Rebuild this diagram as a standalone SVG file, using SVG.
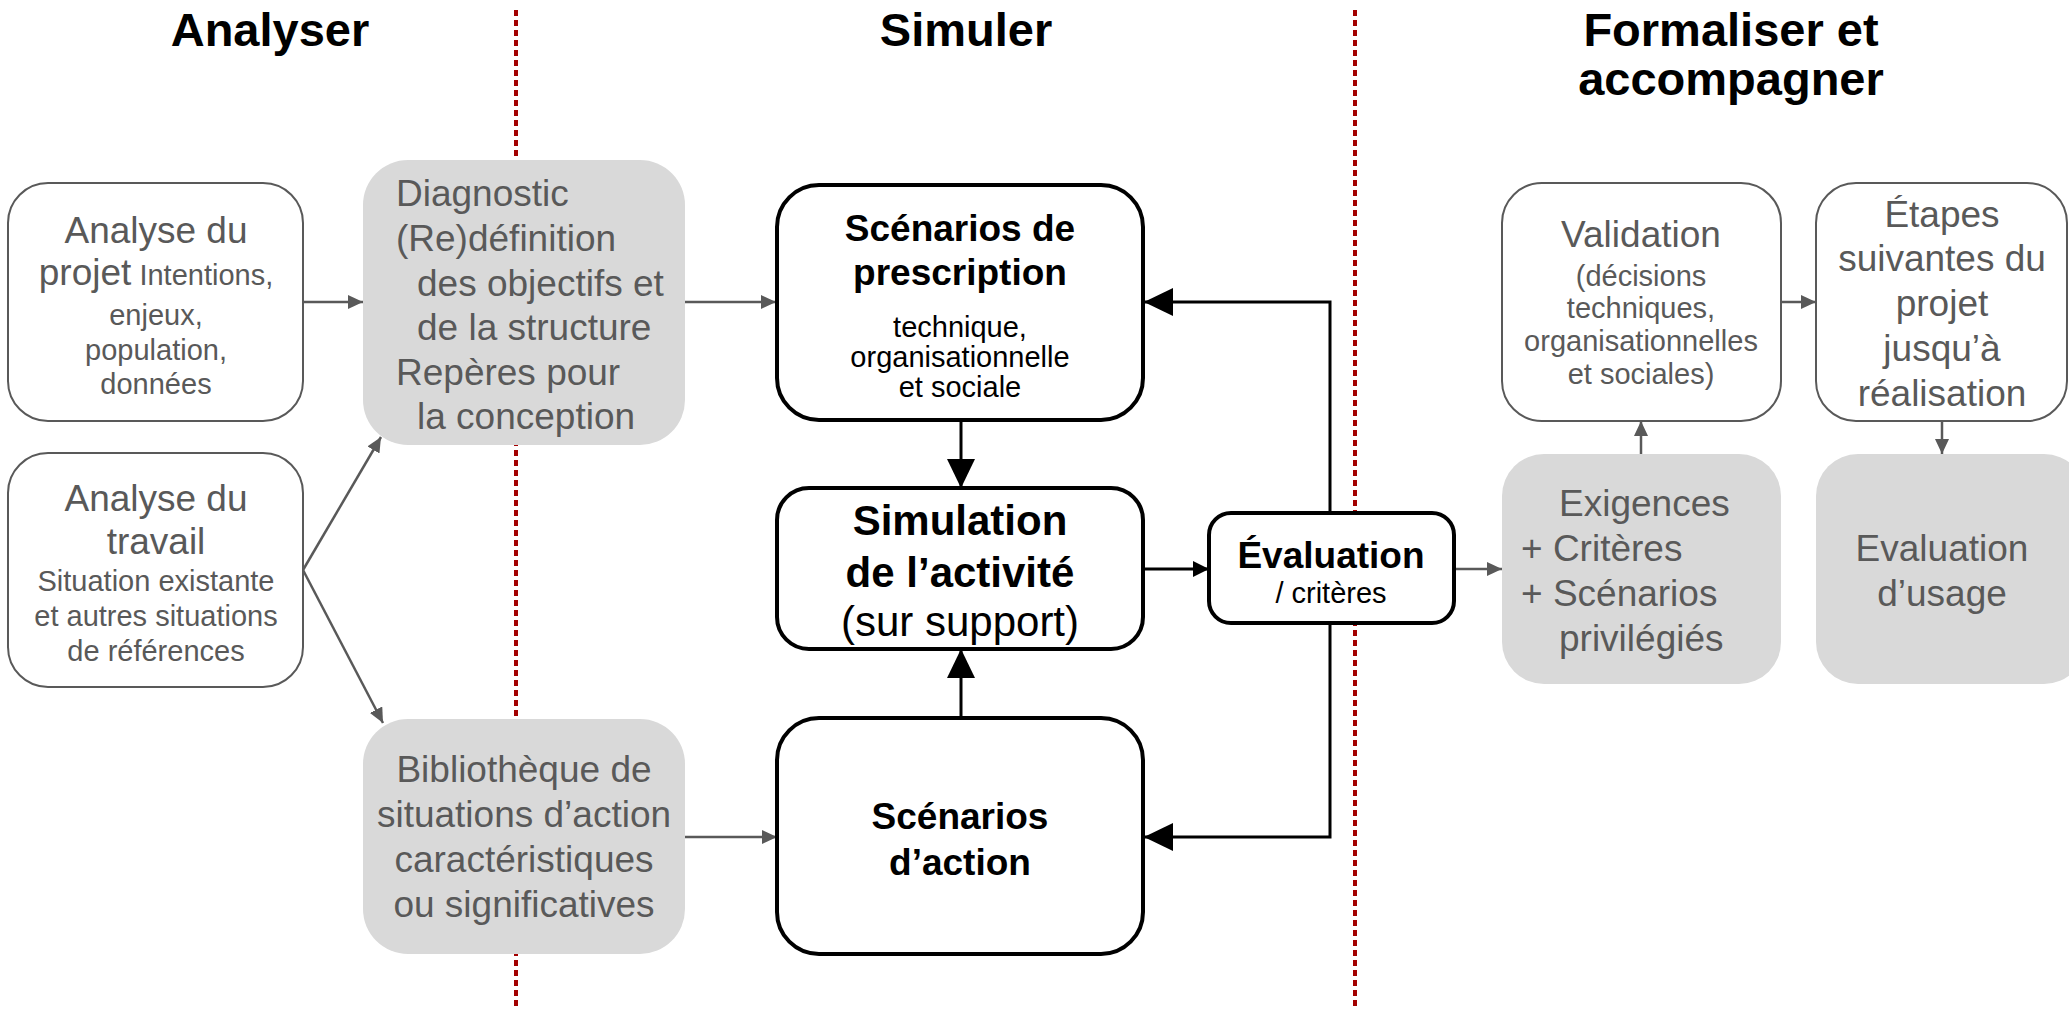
<svg xmlns="http://www.w3.org/2000/svg" width="2069" height="1009" viewBox="0 0 2069 1009">
<defs>
<style>
text{font-family:"Liberation Sans",Arial,sans-serif;}
.title{font-size:47px;font-weight:bold;fill:#000;text-anchor:middle;}
.g37{font-size:37px;fill:#595959;}
.g29{font-size:29px;fill:#595959;}
.b37{font-size:37px;font-weight:bold;fill:#000;}
.b42{font-size:42px;font-weight:bold;fill:#000;}
.k42{font-size:42px;fill:#000;}
.k29{font-size:29px;fill:#000;}
.mid{text-anchor:middle;}
.wbox{fill:#fff;stroke:#595959;stroke-width:2;}
.gbox{fill:#D9D9D9;stroke:none;}
.kbox{fill:#fff;stroke:#000;stroke-width:4;}
.sep{stroke:#A30000;stroke-width:4;stroke-dasharray:6 4;fill:none;}
.cg{stroke:#595959;stroke-width:2.5;fill:none;}
.ck{stroke:#000;stroke-width:3;fill:none;}
</style>
<marker id="ag" markerUnits="userSpaceOnUse" markerWidth="16" markerHeight="14" refX="15" refY="7" orient="auto">
<path d="M0,0 L15,7 L0,14 z" fill="#595959"/>
</marker>
<marker id="akb" markerUnits="userSpaceOnUse" markerWidth="30" markerHeight="28" refX="29" refY="14" orient="auto">
<path d="M0,0 L29,14 L0,28 z" fill="#000"/>
</marker>
<marker id="aks" markerUnits="userSpaceOnUse" markerWidth="17" markerHeight="16" refX="16" refY="8" orient="auto">
<path d="M0,0 L16,8 L0,16 z" fill="#000"/>
</marker>
</defs>
<rect x="0" y="0" width="2069" height="1009" fill="#fff"/>

<g id="separators">
<line class="sep" x1="516" y1="10" x2="516" y2="1009"/>
<line class="sep" x1="1355" y1="10" x2="1355" y2="1009"/>
</g>

<g id="titles">
<text class="title" x="270" y="46">Analyser</text>
<text class="title" x="966" y="46">Simuler</text>
<text class="title" x="1731" y="46">Formaliser et</text>
<text class="title" x="1731" y="95">accompagner</text>
</g>

<g id="connectors">
<line class="cg" x1="303" y1="302" x2="363" y2="302" marker-end="url(#ag)"/>
<line class="cg" x1="303" y1="570" x2="381" y2="437" marker-end="url(#ag)"/>
<line class="cg" x1="303" y1="570" x2="383" y2="723" marker-end="url(#ag)"/>
<line class="cg" x1="685" y1="302" x2="776" y2="302" marker-end="url(#ag)"/>
<line class="cg" x1="685" y1="837" x2="777" y2="837" marker-end="url(#ag)"/>
<line class="ck" x1="961" y1="420" x2="961" y2="488" marker-end="url(#akb)"/>
<line class="ck" x1="961" y1="718" x2="961" y2="649" marker-end="url(#akb)"/>
<line class="ck" x1="1143" y1="569" x2="1209" y2="569" marker-end="url(#aks)"/>
<path class="ck" d="M1330,513 V302 H1144" marker-end="url(#akb)"/>
<path class="ck" d="M1330,623 V837 H1144" marker-end="url(#akb)"/>
<line class="cg" x1="1454" y1="569" x2="1502" y2="569" marker-end="url(#ag)"/>
<line class="cg" x1="1641" y1="454" x2="1641" y2="421" marker-end="url(#ag)"/>
<line class="cg" x1="1781" y1="302" x2="1816" y2="302" marker-end="url(#ag)"/>
<line class="cg" x1="1942" y1="421" x2="1942" y2="454" marker-end="url(#ag)"/>
</g>

<g id="node-analyse-projet">
<rect class="wbox" x="8" y="183" width="295" height="238" rx="40"/>
<text class="g37 mid" x="156" y="243">Analyse du</text>
<text class="mid" x="156" y="285"><tspan class="g37">projet</tspan><tspan class="g29"> Intentions,</tspan></text>
<text class="g29 mid" x="156" y="325">enjeux,</text>
<text class="g29 mid" x="156" y="360">population,</text>
<text class="g29 mid" x="156" y="394">données</text>
</g>

<g id="node-analyse-travail">
<rect class="wbox" x="8" y="453" width="295" height="234" rx="40"/>
<text class="g37 mid" x="156" y="511">Analyse du</text>
<text class="g37 mid" x="156" y="554">travail</text>
<text class="g29 mid" x="156" y="591">Situation existante</text>
<text class="g29 mid" x="156" y="626">et autres situations</text>
<text class="g29 mid" x="156" y="661">de références</text>
</g>

<g id="node-diagnostic">
<rect class="gbox" x="363" y="160" width="322" height="285" rx="45"/>
<text class="g37" x="396" y="206">Diagnostic</text>
<text class="g37" x="396" y="251">(Re)définition</text>
<text class="g37" x="417" y="296">des objectifs et</text>
<text class="g37" x="417" y="340">de la structure</text>
<text class="g37" x="396" y="385">Repères pour</text>
<text class="g37" x="417" y="429">la conception</text>
</g>

<g id="node-bibliotheque">
<rect class="gbox" x="363" y="719" width="322" height="235" rx="45"/>
<text class="g37 mid" x="524" y="782">Bibliothèque de</text>
<text class="g37 mid" x="524" y="827">situations d’action</text>
<text class="g37 mid" x="524" y="872">caractéristiques</text>
<text class="g37 mid" x="524" y="917">ou significatives</text>
</g>

<g id="node-scenarios-prescription">
<rect class="kbox" x="777" y="185" width="366" height="235" rx="42"/>
<text class="b37 mid" x="960" y="241">Scénarios de</text>
<text class="b37 mid" x="960" y="285">prescription</text>
<text class="k29 mid" x="960" y="337">technique,</text>
<text class="k29 mid" x="960" y="367">organisationnelle</text>
<text class="k29 mid" x="960" y="397">et sociale</text>
</g>

<g id="node-simulation">
<rect class="kbox" x="777" y="488" width="366" height="161" rx="32"/>
<text class="b42 mid" x="960" y="535">Simulation</text>
<text class="b42 mid" x="960" y="587">de l’activité</text>
<text class="k42 mid" x="960" y="636">(sur support)</text>
</g>

<g id="node-scenarios-action">
<rect class="kbox" x="777" y="718" width="366" height="236" rx="42"/>
<text class="b37 mid" x="960" y="829">Scénarios</text>
<text class="b37 mid" x="960" y="875">d’action</text>
</g>

<g id="node-evaluation">
<rect class="kbox" x="1209" y="513" width="245" height="110" rx="22"/>
<text class="b37 mid" x="1331" y="568">Évaluation</text>
<text class="k29 mid" x="1331" y="603">/ critères</text>
</g>

<g id="node-validation">
<rect class="wbox" x="1502" y="183" width="279" height="238" rx="40"/>
<text class="g37 mid" x="1641" y="247">Validation</text>
<text class="g29 mid" x="1641" y="286">(décisions</text>
<text class="g29 mid" x="1641" y="318">techniques,</text>
<text class="g29 mid" x="1641" y="351">organisationnelles</text>
<text class="g29 mid" x="1641" y="384">et sociales)</text>
</g>

<g id="node-etapes">
<rect class="wbox" x="1816" y="183" width="251" height="238" rx="40"/>
<text class="g37 mid" x="1942" y="227">Étapes</text>
<text class="g37 mid" x="1942" y="271">suivantes du</text>
<text class="g37 mid" x="1942" y="316">projet</text>
<text class="g37 mid" x="1942" y="361">jusqu’à</text>
<text class="g37 mid" x="1942" y="406">réalisation</text>
</g>

<g id="node-exigences">
<rect class="gbox" x="1502" y="454" width="279" height="230" rx="42"/>
<text class="g37" x="1559" y="516">Exigences</text>
<text class="g37" x="1521" y="561">+ Critères</text>
<text class="g37" x="1521" y="606">+ Scénarios</text>
<text class="g37" x="1559" y="651">privilégiés</text>
</g>

<g id="node-evaluation-usage">
<rect class="gbox" x="1816" y="454" width="270" height="230" rx="42"/>
<text class="g37 mid" x="1942" y="561">Evaluation</text>
<text class="g37 mid" x="1942" y="606">d’usage</text>
</g>
</svg>
